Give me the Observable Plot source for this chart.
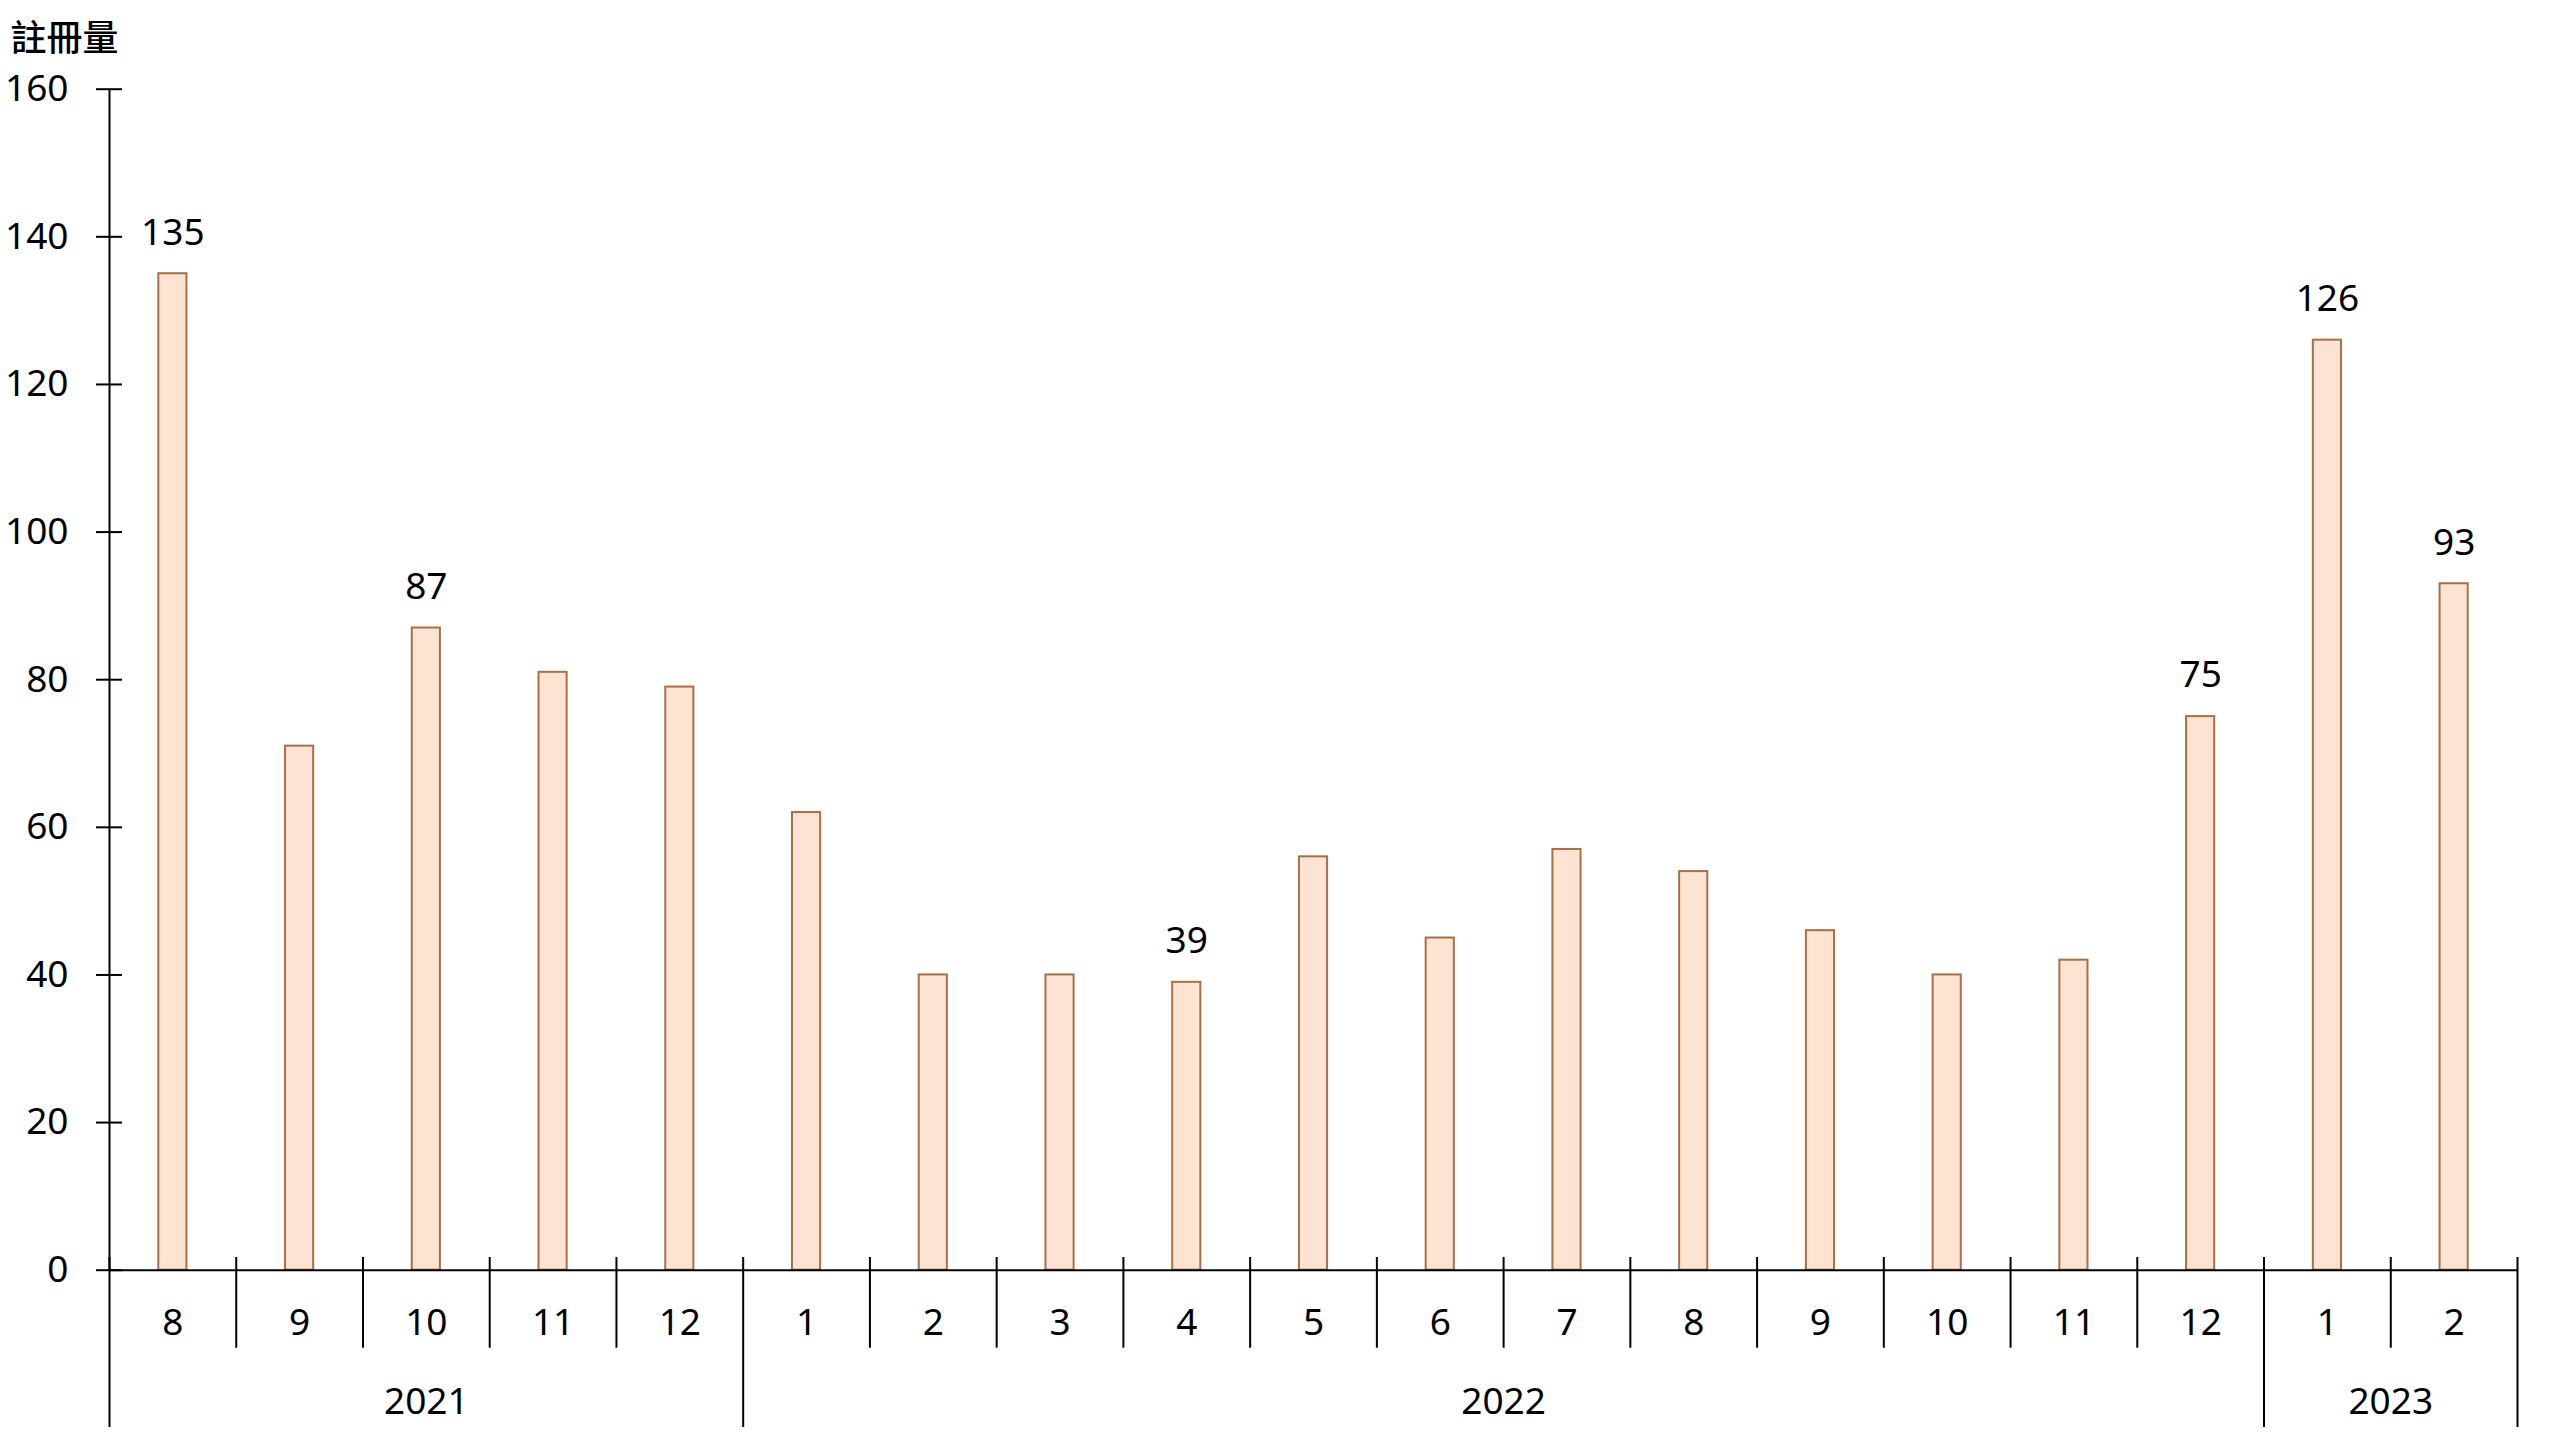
<!DOCTYPE html>
<html>
<head>
<meta charset="utf-8">
<script src="https://cdn.jsdelivr.net/npm/d3@7"></script>
<script src="https://cdn.jsdelivr.net/npm/@observablehq/plot@0.6"></script>
<style>
  html, body { margin: 0; padding: 0; background: #fff; }
  #chart svg { display: block; }
</style>
</head>
<body>
<div id="chart"></div>
<script>
const title = "註冊量";
const years = [2021, 2021, 2021, 2021, 2021,
               2022, 2022, 2022, 2022, 2022, 2022, 2022, 2022, 2022, 2022, 2022, 2022,
               2023, 2023];
const months = [8, 9, 10, 11, 12, 1, 2, 3, 4, 5, 6, 7, 8, 9, 10, 11, 12, 1, 2];
const values = [135, 71, 87, 81, 79, 62, 40, 40, 39, 56, 45, 57, 54, 46, 40, 42, 75, 126, 93];
const labeledMonths = ["2021-8", "2021-10", "2022-4", "2022-12", "2023-1", "2023-2"];
const yTicks = [0, 20, 40, 60, 80, 100, 120, 140, 160];

const data = months.map((m, i) => ({i, year: years[i], month: m, value: values[i], key: `${years[i]}-${m}`}));
const n = data.length;

// year groups derived from data
const yearGroups = [];
data.forEach(d => {
  const last = yearGroups[yearGroups.length - 1];
  if (last && last.year === d.year) last.end = d.i + 1;
  else yearGroups.push({year: d.year, start: d.i, end: d.i + 1});
});
const yearBounds = [...new Set(yearGroups.flatMap(g => [g.start, g.end]))];
const monthBounds = d3.range(1, n).filter(b => !yearBounds.includes(b));

const numFont = "'Noto Sans', 'Open Sans', sans-serif";
const cjkFont = "'Noto Sans CJK TC', 'Noto Sans CJK SC', sans-serif";

const chart = Plot.plot({
  width: 2560,
  height: 1440,
  marginLeft: 109,
  marginRight: 43,
  marginTop: 88.7,
  marginBottom: 170.3,
  style: {fontFamily: numFont, background: "#fff", color: "#000"},
  x: {type: "linear", domain: [0, n], axis: null},
  y: {domain: [0, 160], axis: null},
  marks: [
    Plot.rectY(data, {
      x: "i", interval: 1, y: "value",
      insetLeft: 49.3, insetRight: 49.3,
      fill: "#FDE4D2", stroke: "#A96F47", strokeWidth: 2
    }),
    // y axis line
    Plot.ruleX([0], {y1: () => 160, y2: () => 0, stroke: "#000", strokeWidth: 2}),
    // crossing ticks on y axis
    Plot.ruleY(yTicks, {x1: () => 0, x2: () => 0, insetLeft: -13, insetRight: -13, stroke: "#000", strokeWidth: 2}),
    Plot.axisY({ticks: yTicks, tickSize: 0, tickPadding: 41, fontSize: 37, label: null, fontFamily: numFont}),
    // baseline
    Plot.ruleY([0], {stroke: "#000", strokeWidth: 2}),
    // month separators
    Plot.ruleX(monthBounds, {y1: () => 0, y2: () => 0, insetTop: -12.7, insetBottom: -78, stroke: "#000", strokeWidth: 2}),
    // year separators
    Plot.ruleX(yearBounds, {y1: () => 0, y2: () => 0, insetTop: -12.7, insetBottom: -157.3, stroke: "#000", strokeWidth: 2}),
    // month labels
    Plot.text(data, {x: d => d.i + 0.5, y: () => 0, text: d => String(d.month), dy: 53, fontSize: 37, fill: "#000"}),
    // year labels
    Plot.text(yearGroups, {x: d => (d.start + d.end) / 2, y: () => 0, text: d => String(d.year), dy: 132, fontSize: 37, fill: "#000"}),
    // value labels
    Plot.text(data.filter(d => labeledMonths.includes(d.key)), {
      x: d => d.i + 0.5, y: "value", text: d => String(d.value), dy: -41, fontSize: 37, fill: "#000"
    }),
    // title
    Plot.text([title], {
      frameAnchor: "top-left", dx: -99, dy: -64, textAnchor: "start",
      fontSize: 36, fontWeight: 500, fontFamily: cjkFont, fill: "#000"
    })
  ]
});
document.getElementById("chart").appendChild(chart);
</script>
</body>
</html>
